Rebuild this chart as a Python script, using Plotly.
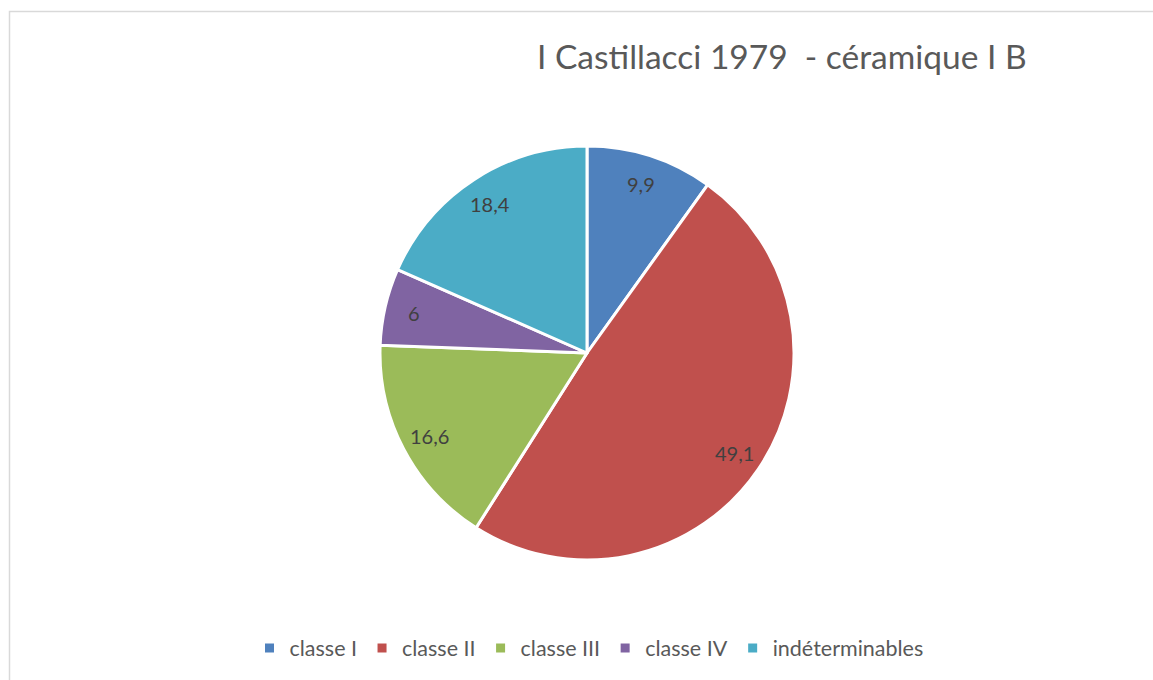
import math
import plotly.graph_objects as go

labels = ["classe I", "classe II", "classe III", "classe IV", "indéterminables"]
values = [9.9, 49.1, 16.6, 6, 18.4]
colors = ["#4F81BD", "#C0504D", "#9BBB59", "#8064A2", "#4BACC6"]
title_text = "I Castillacci 1979  - céramique I B"

W, H = 1153, 680
cx, cy, r = 587, 353, 207
label_frac = 0.86

fig = go.Figure(go.Pie(
    labels=labels,
    values=values,
    sort=False,
    direction="clockwise",
    rotation=0,
    marker=dict(colors=colors, line=dict(color="white", width=3)),
    textinfo="none",
    hoverinfo="label+value",
    domain=dict(x=[(cx - r) / W, (cx + r) / W], y=[1 - (cy + r) / H, 1 - (cy - r) / H]),
))

# data labels placed along each slice bisector (derived from the values)
total = sum(values)
annotations = []
cum = 0.0
for v in values:
    mid = (cum + v / 2) / total * 2 * math.pi
    cum += v
    px = cx + math.sin(mid) * r * label_frac
    py = cy - math.cos(mid) * r * label_frac
    txt = ("%g" % v).replace(".", ",")
    annotations.append(dict(
        text=txt, x=px / W, y=1 - py / H, xref="paper", yref="paper",
        xanchor="center", yanchor="middle", showarrow=False,
        font=dict(family="Lato, sans-serif", size=20, color="#404040"),
    ))

annotations.append(dict(
    text=title_text, x=782 / W, y=1 - 56 / H, xref="paper", yref="paper",
    xanchor="center", yanchor="middle", showarrow=False,
    font=dict(size=33.5, color="#595959", family="Lato, sans-serif"),
))

fig.update_layout(
    width=W, height=H,
    margin=dict(l=0, r=0, t=0, b=0),
    paper_bgcolor="white",
    separators=", ",
    font=dict(family="Lato, sans-serif", color="#595959"),
    showlegend=True,
    legend=dict(
        orientation="h",
        x=589 / W, xanchor="center",
        y=1 - 648 / H, yanchor="middle",
        font=dict(size=21.5, color="#595959"),
    ),
    annotations=annotations,
    shapes=[dict(
        type="rect", xref="paper", yref="paper",
        x0=9.5 / W, x1=1.05, y0=-0.05, y1=1 - 11.5 / H,
        line=dict(color="#D9D9D9", width=1.5), fillcolor="rgba(0,0,0,0)",
    )],
)

fig.write_html(
    "out.html",
    config={"displayModeBar": False},
    post_script="document.body.style.margin='0';document.body.style.overflow='hidden';",
)
